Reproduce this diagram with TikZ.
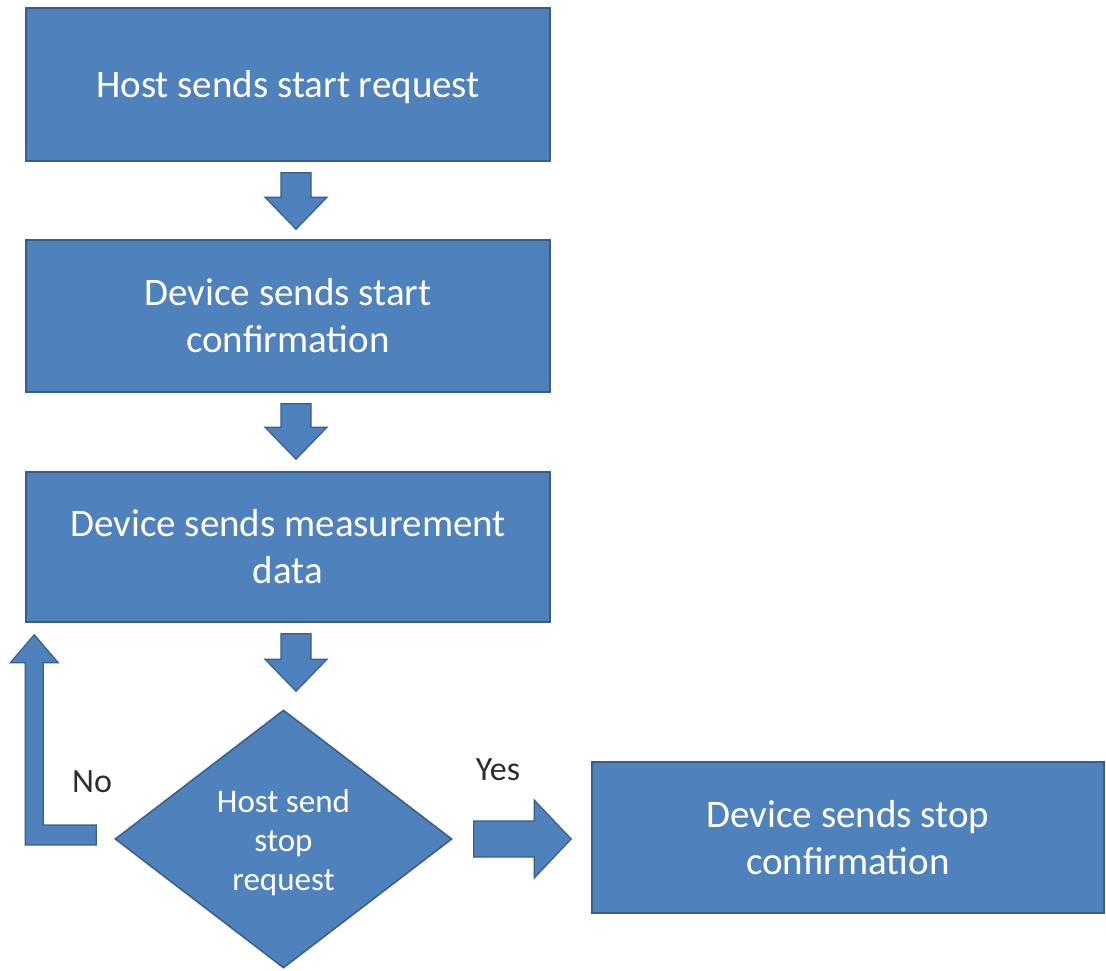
\documentclass[tikz,border=0pt]{standalone}
\usepackage{fontspec}
\setmainfont{Carlito}
\usetikzlibrary{calc,shapes.geometric}
\definecolor{boxfill}{RGB}{79,129,189}
\definecolor{boxline}{RGB}{56,93,138}
\definecolor{lbl}{RGB}{45,45,45}
\newcommand\dnblock[3]{%
  \coordinate (ta) at ($(#1.south)+(8,0)$);
  \coordinate (tb) at (#2.north);
  \draw[blk] ($(ta)+(-15,11)$) -- ($(ta)+(15,11)$)
    -- ($(ta|-tb)+(15,-#3-32)$) -- ($(ta|-tb)+(31,-#3-32)$)
    -- ($(ta|-tb)+(0,-#3)$)
    -- ($(ta|-tb)+(-31,-#3-32)$) -- ($(ta|-tb)+(-15,-#3-32)$) -- cycle;}
\begin{document}
\begin{tikzpicture}[x=1pt,y=-1pt,
  box/.style={draw=boxline, line width=1.5pt, fill=boxfill, text=white,
    font=\fontsize{39}{47}\selectfont, align=center, inner sep=0pt},
  blk/.style={draw=boxline, line width=1.2pt, fill=boxfill, line join=miter},
  lab/.style={text=lbl, font=\fontsize{34}{40}\selectfont}]
\useasboundingbox (0,0) rectangle (1106,971);
\node[box, minimum width=524pt, minimum height=153pt] (b1) at (288,84.5) {\raisebox{-3pt}[\height][\depth]{Host sends start request}};
\node[box, minimum width=524pt, minimum height=152pt] (b2) at (288,316) {Device sends start\\confirmation};
\node[box, minimum width=524pt, minimum height=150pt] (b3) at (288,547) {Device sends measurement\\data};
\node[diamond, draw=boxline, fill=boxfill, line width=1.5pt, minimum width=337pt,
  minimum height=258pt, inner sep=0pt, text=white,
  font=\fontsize{33}{39}\selectfont] (d) at (283.5,839)
  {\raisebox{-5pt}[\height][\depth]{\begin{tabular}{@{}c@{}}Host send\\stop\\request\end{tabular}}};
\node[box, minimum width=512pt, minimum height=151pt] (b4) at (848,837.5) {Device sends stop\\confirmation};
\node[lab] (no) at (92,782) {No};
\node[lab] (yes) at (498,770) {Yes};
% down block arrows
\dnblock{b1}{b2}{10}
\dnblock{b2}{b3}{12}
\dnblock{b3}{d}{18}
% No loop arrow
\coordinate (c) at (b3.south west |- d.west);
\draw[blk] ($(d.west)+(-18,-14)$) -- ($(c)+(18,-14)$) -- ($(b3.south west)+(18,40)$)
  -- ($(b3.south west)+(33,40)$) -- ($(b3.south west)+(9,12)$) -- ($(b3.south west)+(-15,40)$)
  -- ($(b3.south west)+(0,40)$) -- ($(c)+(0,6)$) -- ($(d.west)+(-18,6)$) -- cycle;
% Yes arrow
\coordinate (ye) at (b4.west |- d.east);
\draw[blk] ($(d.east)+(21,-18)$) -- ($(ye)+(-57,-18)$) -- ($(ye)+(-57,-39)$)
  -- ($(ye)+(-20,0)$) -- ($(ye)+(-57,39)$) -- ($(ye)+(-57,18)$) -- ($(d.east)+(21,18)$) -- cycle;
\end{tikzpicture}
\end{document}
